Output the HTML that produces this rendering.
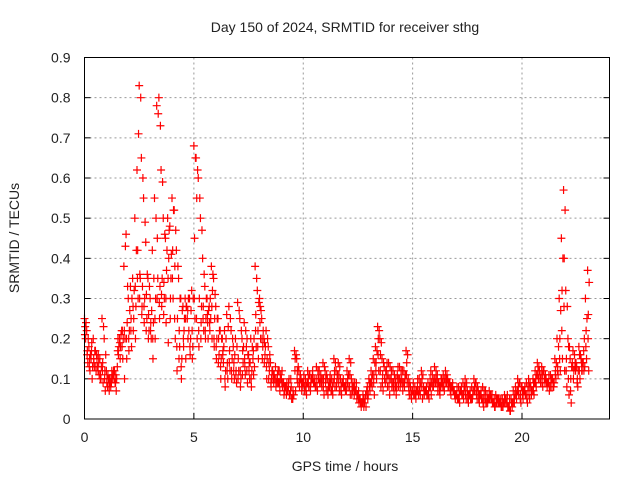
<!DOCTYPE html>
<html><head><meta charset="utf-8"><style>
body{margin:0;background:#fff}
svg{display:block;font-family:"Liberation Sans",sans-serif}
</style></head><body>
<svg id="chart" width="640" height="480" viewBox="0 0 640 480">
<rect width="640" height="480" fill="#fff"/>
<text x="345" y="32" font-size="14" text-anchor="middle" fill="#222">Day 150 of 2024, SRMTID for receiver sthg</text>
<text transform="translate(19,238) rotate(-90)" font-size="14" text-anchor="middle" fill="#222">SRMTID / TECUs</text>
<text x="345" y="471" font-size="14" text-anchor="middle" fill="#222">GPS time / hours</text>
<g id="grid"></g><g id="marks"></g>
<rect x="84.5" y="57.5" width="525" height="361.5" fill="none" stroke="#000" stroke-width="1"/>
</svg>
<script>
const xTicks=[0,5,10,15,20];
const yTicks=[0,0.1,0.2,0.3,0.4,0.5,0.6,0.7,0.8,0.9];
const yTickLabels=["0","0.1","0.2","0.3","0.4","0.5","0.6","0.7","0.8","0.9"];
const tStart=0, tStep=0.1;
const seriesA=[0.25,0.22,0.18,0.15,0.2,0.17,0.13,0.15,0.25,0.2,
0.12,0.1,0.08,0.11,0.09,0.13,0.2,0.22,0.38,0.46,
0.3,0.33,0.35,0.5,0.62,0.83,0.65,0.55,0.44,0.35,
0.3,0.42,0.55,0.78,0.8,0.62,0.5,0.45,0.5,0.48,
0.55,0.52,0.42,0.35,0.3,0.28,0.3,0.25,0.3,0.32,
0.68,0.65,0.6,0.5,0.4,0.33,0.3,0.28,0.38,0.35,
0.28,0.25,0.22,0.2,0.22,0.26,0.28,0.22,0.18,0.2,
0.29,0.25,0.2,0.24,0.18,0.16,0.2,0.15,0.38,0.32,
0.3,0.25,0.2,0.22,0.18,0.14,0.12,0.1,0.1,0.12,
0.1,0.09,0.08,0.07,0.06,0.05,0.17,0.15,0.12,0.1,
0.09,0.1,0.12,0.11,0.1,0.09,0.13,0.1,0.11,0.14,
0.12,0.1,0.08,0.1,0.15,0.12,0.14,0.1,0.09,0.08,
0.12,0.15,0.1,0.08,0.07,0.06,0.05,0.04,0.04,0.07,
0.1,0.12,0.15,0.18,0.23,0.2,0.15,0.13,0.12,0.14,
0.1,0.12,0.09,0.11,0.13,0.1,0.12,0.17,0.1,0.08,
0.07,0.08,0.07,0.1,0.12,0.08,0.07,0.09,0.1,0.11,
0.13,0.1,0.09,0.1,0.11,0.12,0.1,0.09,0.08,0.07,
0.06,0.08,0.07,0.09,0.1,0.07,0.06,0.08,0.1,0.09,
0.07,0.06,0.08,0.05,0.06,0.07,0.05,0.04,0.06,0.05,
0.04,0.05,0.06,0.04,0.03,0.05,0.07,0.08,0.1,0.09,
0.08,0.07,0.09,0.1,0.08,0.1,0.12,0.14,0.12,0.13,
0.12,0.1,0.09,0.11,0.1,0.15,0.2,0.3,0.45,0.57,
0.32,0.2,0.15,0.14,0.16,0.13,0.18,0.15,0.14,0.3,
0.37];
const seriesB=[0.2,0.14,0.12,0.1,0.13,0.16,0.14,0.1,0.09,0.07,
0.08,0.1,0.12,0.1,0.07,0.16,0.18,0.15,0.2,0.24,
0.22,0.18,0.25,0.28,0.3,0.35,0.33,0.3,0.25,0.22,
0.2,0.24,0.3,0.35,0.33,0.35,0.3,0.37,0.4,0.35,
0.3,0.2,0.25,0.18,0.15,0.22,0.28,0.3,0.2,0.18,
0.25,0.2,0.3,0.28,0.22,0.25,0.2,0.3,0.32,0.25,
0.2,0.16,0.15,0.14,0.12,0.1,0.12,0.15,0.1,0.09,
0.12,0.1,0.14,0.11,0.09,0.1,0.12,0.2,0.18,0.15,
0.2,0.18,0.16,0.15,0.12,0.1,0.09,0.08,0.12,0.1,
0.08,0.07,0.09,0.1,0.08,0.06,0.07,0.09,0.1,0.08,
0.07,0.06,0.08,0.09,0.1,0.08,0.07,0.09,0.08,0.06,
0.07,0.08,0.09,0.06,0.08,0.1,0.07,0.06,0.08,0.09,
0.08,0.06,0.07,0.09,0.05,0.04,0.03,0.05,0.06,0.05,
0.07,0.08,0.06,0.1,0.12,0.08,0.07,0.09,0.08,0.06,
0.08,0.07,0.06,0.08,0.09,0.07,0.1,0.09,0.06,0.05,
0.06,0.05,0.07,0.06,0.05,0.07,0.06,0.05,0.06,0.08,
0.09,0.07,0.06,0.08,0.07,0.09,0.08,0.06,0.07,0.05,
0.05,0.04,0.06,0.07,0.05,0.04,0.05,0.06,0.07,0.05,
0.04,0.05,0.03,0.04,0.05,0.06,0.04,0.03,0.04,0.05,
0.03,0.04,0.05,0.03,0.02,0.03,0.04,0.05,0.06,0.04,
0.05,0.06,0.04,0.05,0.07,0.06,0.08,0.1,0.09,0.08,
0.09,0.08,0.07,0.1,0.08,0.1,0.11,0.12,0.15,0.12,
0.08,0.06,0.04,0.1,0.12,0.08,0.1,0.12,0.2,0.15,
0.12];
const seriesC=[0.23,0.17,0.15,0.19,0.14,0.12,0.16,0.11,0.14,0.12,
0.1,0.07,0.09,0.12,0.11,0.2,0.15,0.22,0.1,0.15,
0.17,0.25,0.22,0.2,0.42,0.36,0.28,0.24,0.31,0.26,
0.24,0.15,0.2,0.45,0.25,0.28,0.34,0.24,0.19,0.3,
0.42,0.38,0.12,0.22,0.1,0.18,0.15,0.2,0.16,0.15,
0.45,0.55,0.18,0.24,0.28,0.2,0.24,0.22,0.2,0.18,
0.15,0.2,0.1,0.17,0.08,0.14,0.17,0.1,0.14,0.12,
0.15,0.08,0.17,0.13,0.2,0.14,0.08,0.11,0.26,0.22,
0.28,0.15,0.19,0.1,0.14,0.08,0.11,0.13,0.09,0.07,
0.12,0.08,0.06,0.09,0.1,0.07,0.15,0.12,0.08,0.07,
0.11,0.08,0.1,0.07,0.12,0.1,0.08,0.12,0.09,0.1,
0.1,0.06,0.11,0.08,0.12,0.09,0.11,0.08,0.1,0.07,
0.1,0.11,0.08,0.06,0.09,0.07,0.04,0.06,0.05,0.08,
0.09,0.1,0.11,0.14,0.2,0.16,0.11,0.1,0.14,0.1,
0.12,0.09,0.1,0.13,0.08,0.12,0.08,0.14,0.07,0.06,
0.09,0.06,0.1,0.08,0.1,0.06,0.08,0.07,0.12,0.09,
0.1,0.11,0.08,0.1,0.09,0.1,0.09,0.08,0.09,0.06,
0.08,0.06,0.08,0.05,0.08,0.06,0.07,0.05,0.08,0.07,
0.06,0.07,0.05,0.07,0.04,0.05,0.06,0.05,0.05,0.04,
0.05,0.03,0.04,0.06,0.05,0.04,0.05,0.06,0.08,0.06,
0.07,0.08,0.06,0.08,0.06,0.09,0.1,0.12,0.1,0.11,
0.1,0.09,0.11,0.08,0.09,0.12,0.13,0.2,0.32,0.4,
0.15,0.18,0.1,0.17,0.14,0.1,0.16,0.12,0.12,0.22,
0.26];
const seriesD=[0.24,0.2,0.16,0.13,0.17,0.15,0.11,0.13,0.23,0.16,
0.11,0.09,0.1,0.12,0.1,0.18,0.21,0.2,0.43,0.33,
0.27,0.3,0.32,0.42,0.71,0.8,0.6,0.49,0.36,0.33,
0.27,0.35,0.5,0.76,0.73,0.59,0.46,0.42,0.47,0.41,
0.52,0.47,0.38,0.3,0.27,0.25,0.28,0.22,0.27,0.3,
0.65,0.62,0.55,0.47,0.36,0.3,0.27,0.25,0.36,0.31,
0.25,0.22,0.2,0.18,0.2,0.23,0.25,0.2,0.16,0.18,
0.27,0.22,0.18,0.22,0.16,0.14,0.18,0.13,0.35,0.29,
0.27,0.22,0.18,0.2,0.16,0.12,0.11,0.09,0.09,0.11,
0.09,0.08,0.07,0.06,0.05,0.06,0.16,0.13,0.11,0.09,
0.08,0.09,0.11,0.1,0.09,0.08,0.12,0.09,0.1,0.13,
0.11,0.09,0.07,0.09,0.14,0.11,0.13,0.09,0.08,0.07,
0.11,0.14,0.09,0.07,0.06,0.05,0.04,0.03,0.03,0.06,
0.09,0.11,0.14,0.17,0.22,0.19,0.14,0.12,0.11,0.13,
0.09,0.11,0.08,0.1,0.12,0.09,0.11,0.16,0.09,0.07,
0.06,0.07,0.06,0.09,0.11,0.07,0.06,0.08,0.09,0.1,
0.12,0.09,0.08,0.09,0.1,0.11,0.09,0.08,0.07,0.06,
0.05,0.07,0.06,0.08,0.09,0.06,0.05,0.07,0.09,0.08,
0.06,0.05,0.07,0.04,0.05,0.06,0.04,0.03,0.05,0.04,
0.03,0.04,0.05,0.03,0.02,0.04,0.06,0.07,0.09,0.08,
0.07,0.06,0.08,0.09,0.07,0.09,0.11,0.13,0.11,0.12,
0.11,0.09,0.08,0.1,0.09,0.14,0.18,0.27,0.4,0.52,
0.28,0.18,0.13,0.12,0.14,0.12,0.16,0.14,0.13,0.25,
0.34];
const seriesE=[0.21,0.16,0.13,0.17,0.15,0.13,0.12,0.1,0.12,0.1,
0.09,0.08,0.1,0.11,0.09,0.17,0.19,0.18,0.22,0.2,
0.2,0.22,0.28,0.33,0.35,0.3,0.26,0.28,0.22,0.2,
0.22,0.2,0.25,0.3,0.29,0.31,0.26,0.3,0.35,0.25,
0.35,0.25,0.18,0.15,0.13,0.2,0.25,0.27,0.18,0.22,
0.3,0.25,0.22,0.2,0.25,0.22,0.26,0.24,0.28,0.2,
0.18,0.14,0.13,0.16,0.1,0.12,0.14,0.12,0.12,0.11,
0.1,0.12,0.11,0.15,0.12,0.12,0.1,0.17,0.22,0.18,
0.24,0.2,0.14,0.13,0.1,0.09,0.1,0.1,0.11,0.09,
0.09,0.06,0.08,0.08,0.07,0.05,0.12,0.1,0.09,0.09,
0.09,0.07,0.09,0.08,0.11,0.09,0.1,0.1,0.1,0.08,
0.09,0.07,0.1,0.07,0.1,0.08,0.09,0.07,0.09,0.08,
0.09,0.08,0.06,0.07,0.07,0.05,0.04,0.04,0.05,0.06,
0.08,0.09,0.09,0.12,0.16,0.12,0.09,0.1,0.1,0.08,
0.1,0.08,0.08,0.1,0.1,0.09,0.09,0.11,0.08,0.06,
0.07,0.06,0.08,0.07,0.08,0.06,0.07,0.06,0.08,0.08,
0.09,0.09,0.07,0.09,0.08,0.09,0.08,0.07,0.08,0.06,
0.06,0.05,0.07,0.06,0.06,0.05,0.06,0.05,0.07,0.06,
0.05,0.06,0.04,0.05,0.05,0.05,0.05,0.04,0.04,0.04,
0.04,0.03,0.04,0.04,0.03,0.04,0.04,0.06,0.07,0.05,
0.06,0.07,0.05,0.06,0.07,0.07,0.09,0.11,0.1,0.09,
0.1,0.09,0.09,0.09,0.08,0.11,0.12,0.15,0.22,0.28,
0.12,0.1,0.07,0.13,0.13,0.09,0.12,0.14,0.17,0.18,
0.2];
const seriesList=[seriesA,seriesB,seriesC,seriesD,seriesE];
const seriesOffsets=[0,0.05,0.03,0.07,0.02];

const X0=84.5,X1=609.5,Y0=419,Y1=57.5,XMAX=24,YMAX=0.9;
const xs=v=>X0+(v/XMAX)*(X1-X0);
const ys=v=>Y0-(v/YMAX)*(Y0-Y1);
const NS="http://www.w3.org/2000/svg";
const grid=document.getElementById('grid');
const marks=document.getElementById('marks');
function mk(tag,attrs,parent){const e=document.createElementNS(NS,tag);for(const k in attrs)e.setAttribute(k,attrs[k]);parent.appendChild(e);return e;}
xTicks.forEach(t=>{
  const x=xs(t);
  if(t>0){const g=mk('line',{x1:x,x2:x,y1:Y1,y2:Y0,stroke:'#999','stroke-dasharray':'2,3'},grid);
  
  }
  const tk=mk('line',{x1:x,x2:x,y1:Y0,y2:Y0-6,stroke:'#000'},grid);
  
  
  const tx=mk('text',{x:x,y:Y0+23,'font-size':14,'text-anchor':'middle',fill:'#222'},grid);
  tx.textContent=String(t);
  
  
});
yTicks.forEach((t,i)=>{
  const y=ys(t);
  if(t>0&&t<YMAX){const g=mk('line',{x1:X0,x2:X1,y1:y,y2:y,stroke:'#999','stroke-dasharray':'2,3'},grid);
  
  }
  const tk=mk('line',{x1:X0,x2:X0+6,y1:y,y2:y,stroke:'#000'},grid);
  
  
  const tk2=mk('line',{x1:X1,x2:X1-6,y1:y,y2:y,stroke:'#000'},grid);
  
  
  const tx=mk('text',{x:X0-14,y:y+5,'font-size':14,'text-anchor':'end',fill:'#222'},grid);
  tx.textContent=yTickLabels[i];
  
  
});
seriesList.forEach((ser,si)=>{
  ser.forEach((v,i)=>{
    const x=xs(tStart+i*tStep+seriesOffsets[si]), y=ys(v);
    const p=mk('path',{d:`M${x-4},${y}H${x+4}M${x},${y-4}V${y+4}`,stroke:'#f00','stroke-width':1.2,fill:'none'},marks);
    
    
  });
});
</script>
</body></html>
